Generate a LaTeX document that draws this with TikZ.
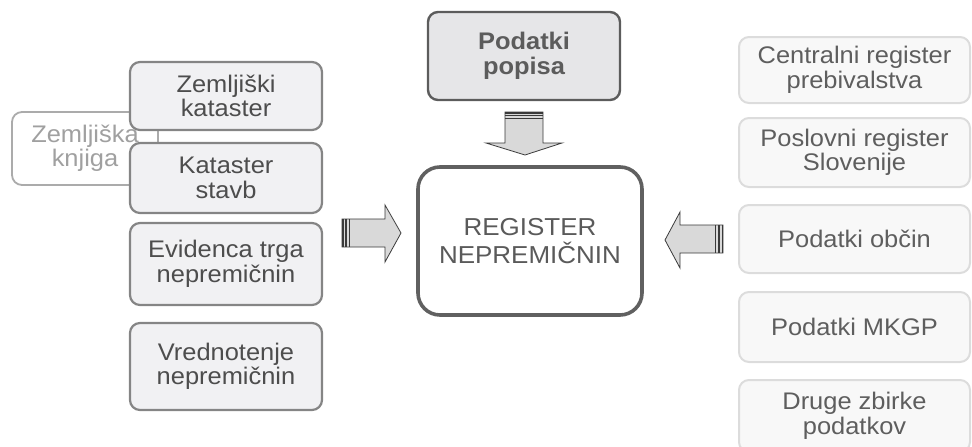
\documentclass[tikz,border=0pt]{standalone}
\usepackage{fontspec}
\setmainfont[FakeStretch=1.06]{Liberation Sans}
\definecolor{leftdraw}{HTML}{858585}
\definecolor{leftfill}{HTML}{F1F1F3}
\definecolor{lefttext}{HTML}{4D4D4D}
\definecolor{rightdraw}{HTML}{DCDCDC}
\definecolor{rightfill}{HTML}{F8F8F8}
\definecolor{righttext}{HTML}{5E5E5E}
\definecolor{knjdraw}{HTML}{ABABAB}
\definecolor{knjtext}{HTML}{A0A0A0}
\definecolor{popfill}{HTML}{E6E6E8}
\definecolor{popdraw}{HTML}{5C5C5C}
\definecolor{regdraw}{HTML}{606060}
\definecolor{regtext}{HTML}{5A5A5A}
\definecolor{arrfill}{HTML}{D9D9D9}
\definecolor{arrline}{HTML}{3A3A3A}
\begin{document}
\begin{tikzpicture}[x=1pt,y=-1pt,
  box/.style={rounded corners=10pt, align=center, inner sep=0pt,
    font=\fontsize{24}{24.5}\selectfont},
  leftbox/.style={box, draw=leftdraw, fill=leftfill, line width=2.2pt, text=lefttext,
    minimum width=192pt},
  rightbox/.style={box, draw=rightdraw, fill=rightfill, line width=2pt, text=righttext,
    minimum width=231pt},
  knjbox/.style={box, draw=knjdraw, fill=white, line width=1.8pt, text=knjtext},
  popbox/.style={box, draw=popdraw, fill=popfill, line width=2.4pt, text=popdraw,
    font=\fontsize{24}{25}\selectfont\bfseries},
  regbox/.style={box, rounded corners=22pt, draw=regdraw, fill=white, line width=3.6pt,
    text=regtext, font=\fontsize{24.5}{28.5}\selectfont},
  arrbody/.style={fill=arrfill, draw=arrline, line width=0.8pt, line join=miter},
  stripe/.style={draw=arrline, line width=1.4pt}
]
\useasboundingbox (0,0) rectangle (972,447);

% left column
\node[knjbox, minimum width=146pt, minimum height=73pt, text width=146pt] (zk) at (85,148.5) {Zemljiška\\knjiga};
\node[leftbox, minimum height=68pt] (zkat) at (226,96) {Zemljiški\\kataster};
\node[leftbox, minimum height=70pt] (ks) at (226,178) {Kataster\\stavb};
\node[leftbox, minimum height=82pt] (etn) at (226,264) {Evidenca trga\\nepremičnin};
\node[leftbox, minimum height=87pt] (vn) at (226,366.5) {Vrednotenje\\nepremičnin};

% centre
\node[popbox, minimum width=192pt, minimum height=88pt] (pp) at (524,56) {Podatki\\popisa};
\node[regbox, minimum width=224pt, minimum height=148pt] (rn) at (530,241) {REGISTER\\NEPREMIČNIN};

% right column
\node[rightbox, minimum height=66pt] (cr) at (854.5,70) {Centralni register\\prebivalstva};
\node[rightbox, minimum height=69pt] (ps) at (854.5,152.5) {Poslovni register\\Slovenije};
\node[rightbox, minimum height=68pt] (po) at (854.5,239) {Podatki občin};
\node[rightbox, minimum height=70pt] (mk) at (854.5,327) {Podatki MKGP};
\node[rightbox, minimum height=72pt] (dz) at (854.5,416) {Druge zbirke\\podatkov};

% arrow from the left (pointing right)
\draw[arrbody] (342,219) -- (385,219) -- (385,205) -- (401,233) -- (385,262) -- (385,247) -- (342,247) -- cycle;
\foreach \xx in {342.8,345.9,349.6} \draw[stripe] (\xx,219) -- (\xx,247);

% arrow from the right (pointing left)
\draw[arrbody] (723,225) -- (680,225) -- (680,212) -- (665,240) -- (680,268) -- (680,253) -- (723,253) -- cycle;
\foreach \xx in {722.2,719.1,715.4} \draw[stripe] (\xx,225) -- (\xx,253);

% arrow from above (pointing down)
\draw[arrbody] (505,112) -- (543,112) -- (543,143) -- (562,143) -- (525,155) -- (486,143) -- (505,143) -- cycle;
\foreach \yy in {112.8,115.4,118.2} \draw[stripe] (505,\yy) -- (543,\yy);
\end{tikzpicture}
\end{document}
